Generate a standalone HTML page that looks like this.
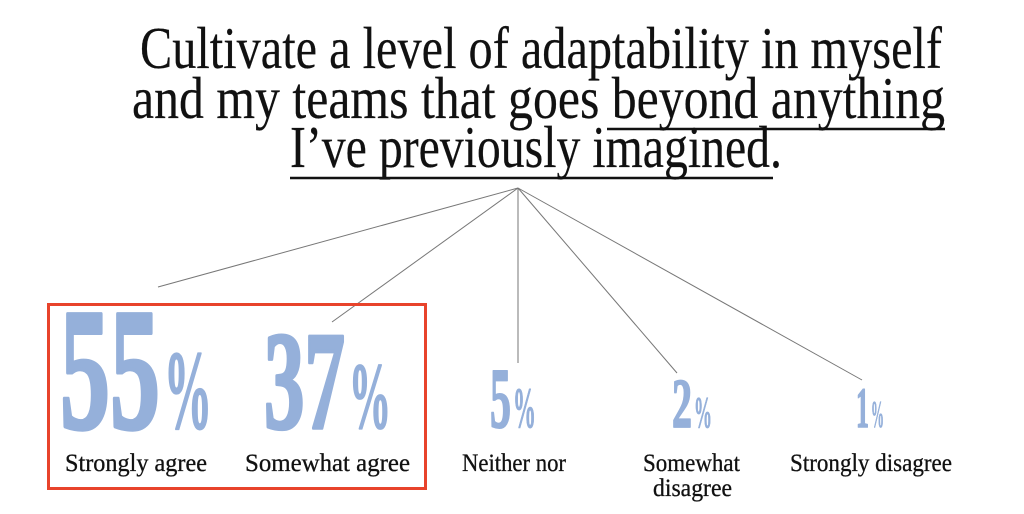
<!DOCTYPE html>
<html><head><meta charset="utf-8"><style>html,body{margin:0;padding:0;background:#fff}svg{display:block}</style></head>
<body>
<svg width="1024" height="514" viewBox="0 0 1024 514" xmlns="http://www.w3.org/2000/svg">
<g font-family="Liberation Serif, serif" fill="#111" font-size="59" stroke="#111" stroke-width="0.2">
<text x="140" y="68" textLength="802" lengthAdjust="spacingAndGlyphs">Cultivate a level of adaptability in myself</text>
<text x="132" y="118" textLength="813" lengthAdjust="spacingAndGlyphs">and my teams that goes beyond anything</text>
<text x="290" y="167" textLength="492" lengthAdjust="spacingAndGlyphs">I’ve previously imagined.</text>
</g>
<g stroke="#111" stroke-width="2.5">
<line x1="607" y1="129" x2="945" y2="129"/>
<line x1="290" y1="178" x2="773" y2="178"/>
</g>
<g stroke="#777" stroke-width="1">
<line x1="518" y1="188" x2="158" y2="287"/>
<line x1="518" y1="188" x2="332" y2="322"/>
<line x1="518" y1="188" x2="518" y2="363"/>
<line x1="518" y1="188" x2="677" y2="373"/>
<line x1="518" y1="188" x2="862" y2="380"/>
</g>
<g font-family="Liberation Serif, serif" font-weight="bold" fill="#95b0da" stroke="#95b0da" stroke-linejoin="round">
<text x="60" y="428" font-size="174" stroke-width="4" textLength="100" lengthAdjust="spacingAndGlyphs">55</text>
<text x="164" y="428" font-size="112" stroke-width="2" textLength="48" lengthAdjust="spacingAndGlyphs">%</text>
<text x="264" y="428" font-size="140" stroke-width="3.5" textLength="81" lengthAdjust="spacingAndGlyphs">37</text>
<text x="349" y="428" font-size="94" stroke-width="1.8" textLength="42" lengthAdjust="spacingAndGlyphs">%</text>
<text x="490" y="427" font-size="86" stroke-width="2" textLength="21" lengthAdjust="spacingAndGlyphs">5</text>
<text x="513" y="427" font-size="57" stroke-width="1" textLength="23" lengthAdjust="spacingAndGlyphs">%</text>
<text x="672" y="427" font-size="70" stroke-width="1.8" textLength="20" lengthAdjust="spacingAndGlyphs">2</text>
<text x="694" y="427" font-size="44" stroke-width="0.8" textLength="18" lengthAdjust="spacingAndGlyphs">%</text>
<text x="856" y="427" font-size="57" stroke-width="1.5" textLength="13" lengthAdjust="spacingAndGlyphs">1</text>
<text x="871" y="427" font-size="38" stroke-width="0.7" textLength="13" lengthAdjust="spacingAndGlyphs">%</text>
</g>
<g font-family="Liberation Serif, serif" fill="#111" font-size="25" stroke="#111" stroke-width="0.3">
<text x="65" y="471" textLength="142" lengthAdjust="spacingAndGlyphs">Strongly agree</text>
<text x="245" y="471" textLength="165" lengthAdjust="spacingAndGlyphs">Somewhat agree</text>
<text x="462" y="471" textLength="104" lengthAdjust="spacingAndGlyphs">Neither nor</text>
<text x="643" y="471" textLength="97" lengthAdjust="spacingAndGlyphs">Somewhat</text>
<text x="653" y="496" textLength="79" lengthAdjust="spacingAndGlyphs">disagree</text>
<text x="790" y="471" textLength="162" lengthAdjust="spacingAndGlyphs">Strongly disagree</text>
</g>
<rect x="48.5" y="304.5" width="377" height="184" fill="none" stroke="#e8432b" stroke-width="3"/>
</svg>
</body></html>
